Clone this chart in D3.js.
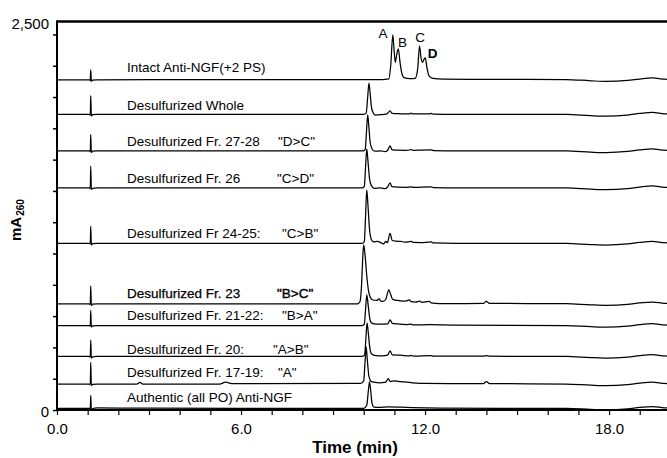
<!DOCTYPE html>
<html>
<head>
<meta charset="utf-8">
<script src="https://cdn.jsdelivr.net/npm/d3@7"></script>
<style>
  html, body { margin: 0; padding: 0; background: #fff; }
  svg { display: block; }
  text { font-family: "Liberation Sans", Arial, Helvetica, sans-serif; fill: #000; }
</style>
</head>
<body>
<svg id="chart" width="667" height="458"></svg>
<script>
// ---------------- DATA ----------------
const traceLabels = [
  "Intact Anti-NGF(+2 PS)",
  "Desulfurized Whole",
  "Desulfurized Fr. 27-28",
  "Desulfurized Fr. 26",
  "Desulfurized Fr 24-25:",
  "Desulfurized Fr. 23",
  "Desulfurized Fr. 21-22:",
  "Desulfurized Fr. 20:",
  "Desulfurized Fr. 17-19:",
  "Authentic (all PO) Anti-NGF"
];
const traceTags = [null, null, "\"D>C\"", "\"C>D\"", "\"C>B\"", "\"B>C\"", "\"B>A\"", "\"A>B\"", "\"A\"", null];
// vertical stacking offset of each trace (mA)
const traceOffsets = [2110, 1889, 1656, 1419, 1065, 678, 540, 342, 166, 10];

// [time (min), signal (mA)]
const intact = [[0,0],[1.06,0],[1.085,-6],[1.1,66],[1.12,-10],[1.16,-2],[1.3,0],[5,1],[10.6,2],[10.82,6],[10.88,90],[10.95,288],[10.99,190],[11.03,112],[11.08,165],[11.13,198],[11.18,120],[11.24,45],[11.32,14],[11.5,8],[11.68,10],[11.76,70],[11.82,217],[11.87,140],[11.92,112],[11.97,132],[12.01,141],[12.06,80],[12.13,25],[12.25,10],[12.6,5],[14,3],[16.6,2],[17.4,-6],[17.9,-10],[18.6,-4],[19.0,5],[19.4,12],[19.8,4],[20,2]];
const whole = [[0,0],[1.06,0],[1.085,-6],[1.1,120],[1.12,-10],[1.16,-2],[1.3,0],[10.0,0],[10.08,8],[10.13,110],[10.17,200],[10.21,135],[10.25,50],[10.3,14],[10.38,-4],[10.55,-2],[10.76,4],[10.86,22],[10.93,6],[11.2,4],[11.5,3],[11.55,9],[11.6,3],[12.15,3],[12.2,7],[12.26,2],[13,0],[16.6,0],[17.4,-8],[17.9,-11],[18.6,-4],[19.0,6],[19.4,13],[19.8,4],[20,2]];
const fr2728 = [[0,0],[1.06,0],[1.085,-6],[1.1,104],[1.12,-10],[1.16,-2],[1.3,0],[9.98,0],[10.05,10],[10.09,120],[10.13,230],[10.17,150],[10.21,55],[10.27,14],[10.36,-2],[10.55,0],[10.7,-5],[10.78,4],[10.86,32],[10.92,8],[11.1,4],[11.4,3],[11.55,8],[11.62,3],[11.85,5],[12.2,7],[12.27,2],[13,0],[16.6,0],[17.4,-8],[17.9,-11],[18.6,-4],[19.0,6],[19.4,13],[19.8,4],[20,2]];
const fr26 = [[0,0],[1.06,0],[1.085,-6],[1.1,140],[1.12,-10],[1.16,-2],[1.3,0],[9.95,0],[10.02,10],[10.06,130],[10.10,250],[10.14,170],[10.19,60],[10.25,15],[10.34,-2],[10.55,0],[10.7,-4],[10.78,6],[10.86,32],[10.92,8],[11.1,5],[11.4,4],[11.55,7],[11.62,3],[11.85,5],[12.2,7],[12.27,2],[13,0],[16.6,0],[17.4,-8],[17.9,-11],[18.6,-4],[19.0,6],[19.4,13],[19.8,4],[20,2]];
const fr2425 = [[0,0],[1.06,0],[1.085,-6],[1.1,109],[1.12,-10],[1.16,-2],[1.3,0],[9.95,0],[10.02,12],[10.06,170],[10.10,342],[10.14,240],[10.19,90],[10.25,25],[10.32,10],[10.45,12],[10.58,2],[10.65,-3],[10.72,12],[10.77,4],[10.86,64],[10.93,18],[11.05,14],[11.2,12],[11.35,8],[11.55,12],[11.62,6],[11.85,5],[12.2,9],[12.27,3],[13,0],[16.6,0],[17.4,-8],[17.9,-11],[18.6,-4],[19.0,6],[19.4,13],[19.8,4],[20,2]];
const fr23 = [[0,0],[1.06,0],[1.085,-6],[1.1,115],[1.12,-10],[1.16,-2],[1.3,0],[9.8,0],[9.88,15],[9.93,120],[9.97,300],[10.0,377],[10.05,300],[10.1,180],[10.16,80],[10.22,40],[10.3,25],[10.42,22],[10.5,32],[10.56,18],[10.63,16],[10.72,30],[10.82,90],[10.88,60],[10.94,30],[11.1,22],[11.3,18],[11.4,20],[11.49,26],[11.55,14],[11.7,12],[11.82,18],[11.9,10],[12.14,16],[12.2,6],[12.47,2],[13.9,3],[14.0,16],[14.1,3],[16.6,2],[17.4,-6],[17.9,-9],[18.6,-3],[19.0,6],[19.4,12],[19.8,4],[20,2]];
const fr2122 = [[0,0],[1.06,0],[1.085,-6],[1.1,96],[1.12,-10],[1.16,-2],[1.3,0],[9.95,0],[10.02,8],[10.06,100],[10.10,195],[10.14,140],[10.19,55],[10.25,18],[10.35,10],[10.55,8],[10.78,10],[10.86,36],[10.93,14],[11.1,10],[11.4,6],[11.55,8],[11.62,4],[12.2,5],[13,2],[16.6,0],[17.4,-7],[17.9,-10],[18.6,-4],[19.0,6],[19.4,12],[19.8,4],[20,2]];
const fr20 = [[0,0],[1.06,0],[1.085,-6],[1.1,105],[1.12,-10],[1.16,-2],[1.3,0],[9.95,0],[10.03,10],[10.07,110],[10.11,214],[10.15,150],[10.2,55],[10.26,16],[10.4,6],[10.6,4],[10.78,8],[10.86,36],[10.93,10],[11.2,8],[11.5,4],[11.55,7],[11.62,3],[12.2,6],[12.27,2],[13.9,2],[14.0,6],[14.1,2],[16.6,0],[17.4,-7],[17.9,-10],[18.6,-4],[19.0,6],[19.4,12],[19.8,4],[20,2]];
const fr1719 = [[0,0],[1.06,0],[1.085,-6],[1.1,138],[1.12,-10],[1.16,-2],[1.3,0],[2.6,0],[2.7,10],[2.8,0],[5.3,0],[5.5,12],[5.7,2],[9.9,4],[10.0,20],[10.04,130],[10.08,237],[10.12,150],[10.17,50],[10.25,15],[10.5,8],[10.72,12],[10.8,34],[10.87,16],[11.0,20],[11.2,16],[11.6,8],[12,4],[13.9,3],[14.0,16],[14.1,3],[16.6,0],[17.4,-7],[17.9,-10],[18.6,-4],[19.0,6],[19.4,12],[19.8,4],[20,2]];
const authentic = [[0,0],[1.06,0],[1.085,-5],[1.1,83],[1.12,-8],[1.16,-2],[1.3,3],[3,2],[10.0,0],[10.1,20],[10.15,110],[10.19,170],[10.23,110],[10.27,35],[10.33,8],[10.5,6],[10.8,10],[11.2,8],[11.6,5],[12.5,2],[16.6,0],[17.4,-6],[17.9,-9],[18.6,-3],[19.0,6],[19.4,12],[19.8,4],[20,2]];
const traces = [intact, whole, fr2728, fr26, fr2425, fr23, fr2122, fr20, fr1719, authentic];

// peak annotations on the intact trace
const peakNames = ["A", "B", "C", "D"];

const xTicks = d3.range(0, 20, 1);
const xTickLabels = [0, 6, 12, 18];
const yTicks = d3.range(0, 2401, 200);
const yTickLabels = [0, 2500];

// ---------------- LAYOUT ----------------
const W = 667, H = 458;
const plotLeft = 57, plotBottom = 410, plotTop = 21.5;
const labelRaise = [12.5, 9.5, 9.3, 10, 10.5, 11, 10.5, 7.5, 12, 11];
const tagX = [0, 0, 278, 277, 282, 277, 282, 273, 278, 0];
const peakLabelPos = [[383, 33], [402.5, 42], [420, 37], [432.5, 53]];
const boldRows = [5];

const svg = d3.select("#chart");
const x = d3.scaleLinear().domain([0, 20]).range([plotLeft, 670.4]);
const y = d3.scaleLinear().domain([0, 2500]).range([plotBottom, 18.8]);

// traces
const line = d3.line().x(d => x(d[0])).curve(d3.curveMonotoneX);
traces.forEach((tr, i) => {
  svg.append("path")
    .attr("d", line.y(d => y(d[1] + traceOffsets[i]))(tr))
    .attr("fill", "none")
    .attr("stroke", "#000")
    .attr("stroke-width", 1.25)
    .attr("stroke-linejoin", "round");
});

// axes
const xAxis = d3.axisBottom(x).tickValues(xTicks).tickSize(5).tickSizeOuter(0)
  .tickFormat(d => xTickLabels.includes(d) ? d3.format(".1f")(d) : "");
const gx = svg.append("g").attr("transform", `translate(0,${plotBottom})`).call(xAxis);
gx.select(".domain").attr("stroke-width", 2).attr("d", `M${plotLeft},0H${W}`);
gx.selectAll(".tick line").attr("stroke-width", 1.2);
gx.selectAll(".tick text").attr("font-size", 15).attr("dy", "1.05em")
  .attr("font-family", "Liberation Sans, Arial, sans-serif");

const yAxis = d3.axisLeft(y).tickValues(yTicks).tickSize(4).tickSizeOuter(0).tickFormat("");
const gy = svg.append("g").attr("transform", `translate(${plotLeft},0)`).call(yAxis);
gy.select(".domain").attr("stroke-width", 2).attr("d", `M0,${plotBottom}V${plotTop}`);
gy.selectAll(".tick line").attr("stroke-width", 1.5);

// top frame
svg.append("line").attr("x1", plotLeft - 1).attr("x2", W).attr("y1", plotTop).attr("y2", plotTop)
  .attr("stroke", "#000").attr("stroke-width", 2.5);

// y tick labels
svg.selectAll(".ylab").data(yTickLabels).enter().append("text")
  .attr("x", 49)
  .attr("y", d => Math.max(y(d), plotTop) + 2)
  .attr("dy", "0.35em")
  .attr("text-anchor", "end")
  .attr("font-size", 15)
  .text(d => d3.format(",")(d));

// axis titles
const yt = svg.append("text").attr("transform", "translate(21,241) rotate(-90)")
  .attr("font-weight", "bold").attr("font-size", 15);
yt.append("tspan").text("mA");
yt.append("tspan").attr("font-size", 10).attr("dy", 3).attr("dx", 1).text("260");

svg.append("text").attr("x", 355).attr("y", 453).attr("text-anchor", "middle")
  .attr("font-weight", "bold").attr("font-size", 17).text("Time (min)");

// trace labels
traceLabels.forEach((lab, i) => {
  const cy = y(traceOffsets[i]) - labelRaise[i];
  const bold = boldRows.includes(i);
  const t = svg.append("text").attr("x", 127).attr("y", cy).attr("dy", "0.35em")
    .attr("font-size", 13.5).text(lab);
  if (bold) t.attr("stroke", "#000").attr("stroke-width", 0.25);
  if (traceTags[i]) {
    const tt = svg.append("text").attr("x", tagX[i]).attr("y", cy).attr("dy", "0.35em")
      .attr("font-size", 13.5).text(traceTags[i]);
    if (bold) tt.attr("stroke", "#000").attr("stroke-width", 0.4);
  }
});

// peak labels
peakNames.forEach((p, i) => {
  const t = svg.append("text").attr("x", peakLabelPos[i][0]).attr("y", peakLabelPos[i][1])
    .attr("dy", "0.35em").attr("text-anchor", "middle").attr("font-size", 13.5).text(p);
  if (p === "D") t.attr("font-weight", "bold");
});
</script>
</body>
</html>
